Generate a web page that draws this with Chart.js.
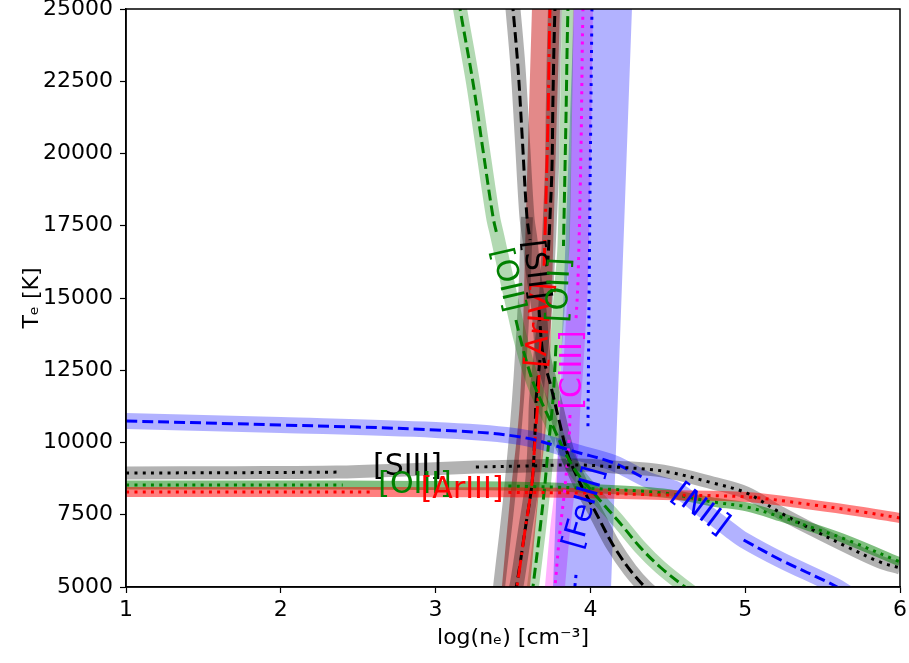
<!DOCTYPE html>
<html>
<head>
<meta charset="utf-8">
<script src="https://cdn.jsdelivr.net/npm/chart.js@4/dist/chart.umd.min.js"></script>
<style>
body { margin: 0; background: #fff; }
#wrap { width: 909px; height: 663px; }
</style>
</head>
<body>
<div id="wrap"><canvas id="myChart" width="909" height="663"></canvas></div>
<script>
// curves: log(ne) [cm-3] and Te [K]
const xTicks = [1, 2, 3, 4, 5, 6];
const yTicks = [5000, 7500, 10000, 12500, 15000, 17500, 20000, 22500, 25000];

// temperature diagnostics (nearly flat)
const niiNe = [1.0, 2.0, 3.0, 3.55, 3.93, 4.15, 4.37, 4.56, 4.73, 4.9, 4.99, 5.23, 5.57, 5.68];
const niiTe = [10744, 10606, 10433, 10190, 9637, 9292, 8703, 8357, 7660, 6973, 6627, 5935, 5069, 4720];

const siiiNe = [1.0, 1.7, 2.36, 2.8, 3.26, 3.6, 3.93, 4.15, 4.47, 4.79, 5.01, 5.23, 5.44, 5.66, 5.87, 6.0];
const siiiTe = [8945, 8955, 8975, 9050, 9150, 9190, 9222, 9155, 9010, 8600, 8250, 7560, 6970, 6385, 5866, 5658];

const oiiiNe = [1.0, 1.7, 2.4, 2.9, 3.47, 3.93, 4.47, 4.79, 5.01, 5.23, 5.44, 5.66, 6.0];
const oiiiTe = [8530, 8530, 8530, 8515, 8495, 8426, 8253, 7942, 7769, 7423, 7043, 6627, 5866];

const ariiiNe = [1.0, 1.7, 2.58, 3.0, 3.47, 3.93, 4.47, 5.01, 5.44, 5.76, 6.0];
const ariiiTe = [8287, 8287, 8287, 8280, 8275, 8253, 8184, 8115, 7838, 7596, 7388];

// density diagnostics (nearly vertical)
const siiNe = [3.494, 3.5, 3.532, 3.558, 3.59, 3.61, 3.629, 3.668, 3.694, 3.746, 3.797, 3.855, 3.933, 4.043, 4.146, 4.256, 4.353, 4.45];
const siiTe = [25311, 25000, 22993, 20709, 17803, 17007, 15969, 14585, 13028, 11921, 10779, 9568, 8599, 7492, 6454, 5589, 5000, 4550];

const sii2Ne = [3.778, 3.771, 3.758, 3.752, 3.739, 3.726, 3.707, 3.674, 3.649, 3.642, 3.623, 3.578, 3.526, 3.506];
const sii2Te = [25311, 25000, 21851, 19533, 17803, 16315, 14585, 12855, 11471, 10330, 8599, 6973, 5139, 4723];

const siiLowNe = [3.59, 3.571, 3.532, 3.474, 3.41, 3.403];
const siiLowTe = [17803, 14931, 11471, 8011, 5000, 4550];

const arivNe = [3.746, 3.739, 3.726, 3.707, 3.7, 3.681, 3.668, 3.661, 3.642, 3.623, 3.578, 3.526, 3.519];
const arivTe = [25311, 25000, 21159, 17249, 15969, 14066, 12336, 11471, 10087, 8599, 6973, 5000, 4723];

const arivBandNe = [3.72, 3.713, 3.674, 3.636, 3.571, 3.519, 3.513];
const arivBandTe = [25311, 25000, 17803, 11471, 8011, 5000, 4550];

const oiiNe = [3.862, 3.855, 3.842, 3.826, 3.804, 3.778, 3.758, 3.726, 3.707, 3.674, 3.629, 3.623];
const oiiTe = [25311, 25000, 21159, 16800, 15277, 13374, 11471, 9741, 8599, 6973, 5000, 4723];

const oii2Ne = [3.151, 3.158, 3.242, 3.306, 3.371, 3.397, 3.461, 3.519, 3.545, 3.59, 3.642, 3.739, 3.888, 4.043, 4.191, 4.32, 4.45, 4.611, 4.708];
const oii2Te = [25311, 25000, 22440, 20121, 17803, 17180, 15623, 14239, 13651, 12751, 11921, 10779, 9153, 8115, 7215, 6385, 5692, 5000, 4620];

const cliiiNe = [3.959, 3.952, 3.939, 3.92, 3.907, 3.888, 3.868, 3.862, 3.836, 3.804, 3.771, 3.765];
const cliiiTe = [25311, 25000, 20121, 15623, 14239, 12509, 10952, 10087, 8461, 6973, 5000, 4723];

const feiiiNe = [4.01, 4.01, 3.997, 3.984, 3.946, 3.907, 3.9, 3.9];
const feiiiTe = [25311, 25000, 18391, 10433, 8011, 5416, 5000, 4723];

const feiiiBandNe = [4.088, 4.081, 3.946, 3.939];
const feiiiBandTe = [25311, 25000, 5000, 4550];

// inline labels: text, log(ne), Te, angle
const labelText = ['[SIII]', '[OIII]', '[ArIII]', '[NII]', '[FeIII]', '[ClIII]', '[ArIV]', '[SII]', '[OII]', '[OII]'];
const labelNe = [2.818, 2.867, 3.171, 4.708, 3.965, 3.888, 3.681, 3.642, 3.461, 3.804];
const labelTe = [9153, 8530, 8357, 7665, 7734, 12509, 14066, 15969, 15623, 15277];
const labelRot = [0, 0, 0, 37, -74, -90, -85, 83, 77, -87];
const labelColor = ['#000', '#008000', '#ff0000', '#0000ff', '#0000ff', '#ff00ff', '#ff0000', '#000', '#008000', '#008000'];

const DOT = [3, 5.3];
const DASH = [11, 5];
const DASHDOT = [18, 5, 3, 5];

function pts(ne, te, gap) {
	return ne.map((x, i) => ({ x: x, y: (gap && gap.includes(i)) ? null : te[i] }));
}

function band(ne, te, color, width) {
	return {
		data: pts(ne, te), showLine: true, borderColor: color, borderWidth: width,
		borderJoinStyle: 'round', tension: 0.35, pointRadius: 0, clip: 0
	};
}

function curve(ne, te, gap, color, dash) {
	return {
		data: pts(ne, te, gap), showLine: true, borderColor: color, borderWidth: 3,
		borderDash: dash, tension: 0.35, pointRadius: 0, clip: 0
	};
}

const datasets = [
	// bands (drawn first)
	band(cliiiNe, cliiiTe, 'rgba(255,0,255,0.3)', 20),
	band(feiiiBandNe, feiiiBandTe, 'rgba(0,0,255,0.3)', 58),
	band(oiiNe, oiiTe, 'rgba(0,128,0,0.3)', 12),
	band(arivBandNe, arivBandTe, 'rgba(200,20,20,0.5)', 28),
	band(sii2Ne, sii2Te, 'rgba(0,0,0,0.3)', 14),
	band(siiLowNe, siiLowTe, 'rgba(0,0,0,0.3)', 12),
	band(siiNe, siiTe, 'rgba(0,0,0,0.3)', 15),
	band(oii2Ne, oii2Te, 'rgba(0,128,0,0.3)', 14),
	band(niiNe, niiTe, 'rgba(0,0,255,0.3)', 16),
	band(siiiNe, siiiTe, 'rgba(0,0,0,0.3)', 13),
	band(oiiiNe, oiiiTe, 'rgba(0,128,0,0.5)', 9),
	band(ariiiNe, ariiiTe, 'rgba(255,0,0,0.5)', 10),
	// centre lines
	curve(feiiiNe, feiiiTe, [4], '#0000ff', DOT),
	curve(cliiiNe, cliiiTe, [5], '#ff00ff', DOT),
	curve(oiiNe, oiiTe, [4], '#008000', DASH),
	curve(sii2Ne, sii2Te, [6], '#000000', DASH),
	curve(arivNe, arivTe, [5], '#ff0000', DASHDOT),
	curve(siiNe, siiTe, [6], '#000000', DASH),
	curve(oii2Ne, oii2Te, [6], '#008000', DASH),
	curve(niiNe, niiTe, [7, 8, 9], '#0000ff', DASH),
	curve(siiiNe, siiiTe, [3], '#000000', DOT),
	curve(oiiiNe, oiiiTe, [3], '#008000', DOT),
	curve(ariiiNe, ariiiTe, [3], '#ff0000', DOT)
];

// order: higher = drawn earlier
datasets.forEach((d, i) => { d.order = datasets.length - i; });

const labelPlugin = {
	id: 'inlineLabels',
	afterDatasetsDraw(chart) {
		const ctx = chart.ctx;
		const xs = chart.scales.x, ys = chart.scales.y;
		ctx.save();
		ctx.font = '30px "DejaVu Sans"';
		ctx.textAlign = 'center';
		ctx.textBaseline = 'middle';
		labelText.forEach((t, i) => {
			ctx.save();
			ctx.translate(xs.getPixelForValue(labelNe[i]), ys.getPixelForValue(labelTe[i]));
			ctx.rotate(labelRot[i] * Math.PI / 180);
			ctx.fillStyle = labelColor[i];
			ctx.fillText(t, 0, 0);
			ctx.restore();
		});
		ctx.restore();
	},
	afterDraw(chart) {
		const a = chart.chartArea, ctx = chart.ctx;
		ctx.save();
		ctx.strokeStyle = '#000';
		ctx.lineWidth = 1.5;
		ctx.strokeRect(a.left, a.top, a.right - a.left, a.bottom - a.top);
		ctx.restore();
	}
};

function noPad(s) {
	s.paddingTop = 0; s.paddingBottom = 0; s.paddingLeft = 0; s.paddingRight = 0;
}

const tickFont = { family: 'DejaVu Sans', size: 22 };

const ctx = document.getElementById('myChart').getContext('2d');
const myChart = new Chart(ctx, {
	type: 'scatter',
	data: { datasets: datasets },
	plugins: [labelPlugin],
	options: {
		responsive: false,
		animation: false,
		layout: { padding: { top: 9, right: 9, left: 0, bottom: 0 } },
		plugins: { legend: { display: false }, tooltip: { enabled: false } },
		scales: {
			x: {
				type: 'linear', min: 1, max: 6,
				afterBuildTicks: s => { s.ticks = xTicks.map(v => ({ value: v })); },
				afterFit: s => { s.height = 76; noPad(s); },
				ticks: { color: '#000', font: tickFont, padding: 4, maxRotation: 0, callback: v => String(v) },
				grid: { drawOnChartArea: false, drawTicks: true, tickLength: 6, color: '#000', tickWidth: 1.2 },
				border: { display: true, color: '#000', width: 1.5 },
				title: { display: true, text: 'log(nₑ) [cm⁻³]', color: '#000', font: tickFont, padding: { top: 4, bottom: 12 } }
			},
			y: {
				type: 'linear', min: 5000, max: 25000,
				afterBuildTicks: s => { s.ticks = yTicks.map(v => ({ value: v })); },
				afterFit: s => { s.width = 126; noPad(s); },
				ticks: { color: '#000', font: tickFont, padding: 7, callback: v => String(v) },
				grid: { drawOnChartArea: false, drawTicks: true, tickLength: 6, color: '#000', tickWidth: 1.2 },
				border: { display: true, color: '#000', width: 1.5 },
				title: { display: true, text: 'Tₑ [K]', color: '#000', font: tickFont, padding: { top: 19, bottom: 0 } }
			}
		}
	}
});
</script>
</body>
</html>
